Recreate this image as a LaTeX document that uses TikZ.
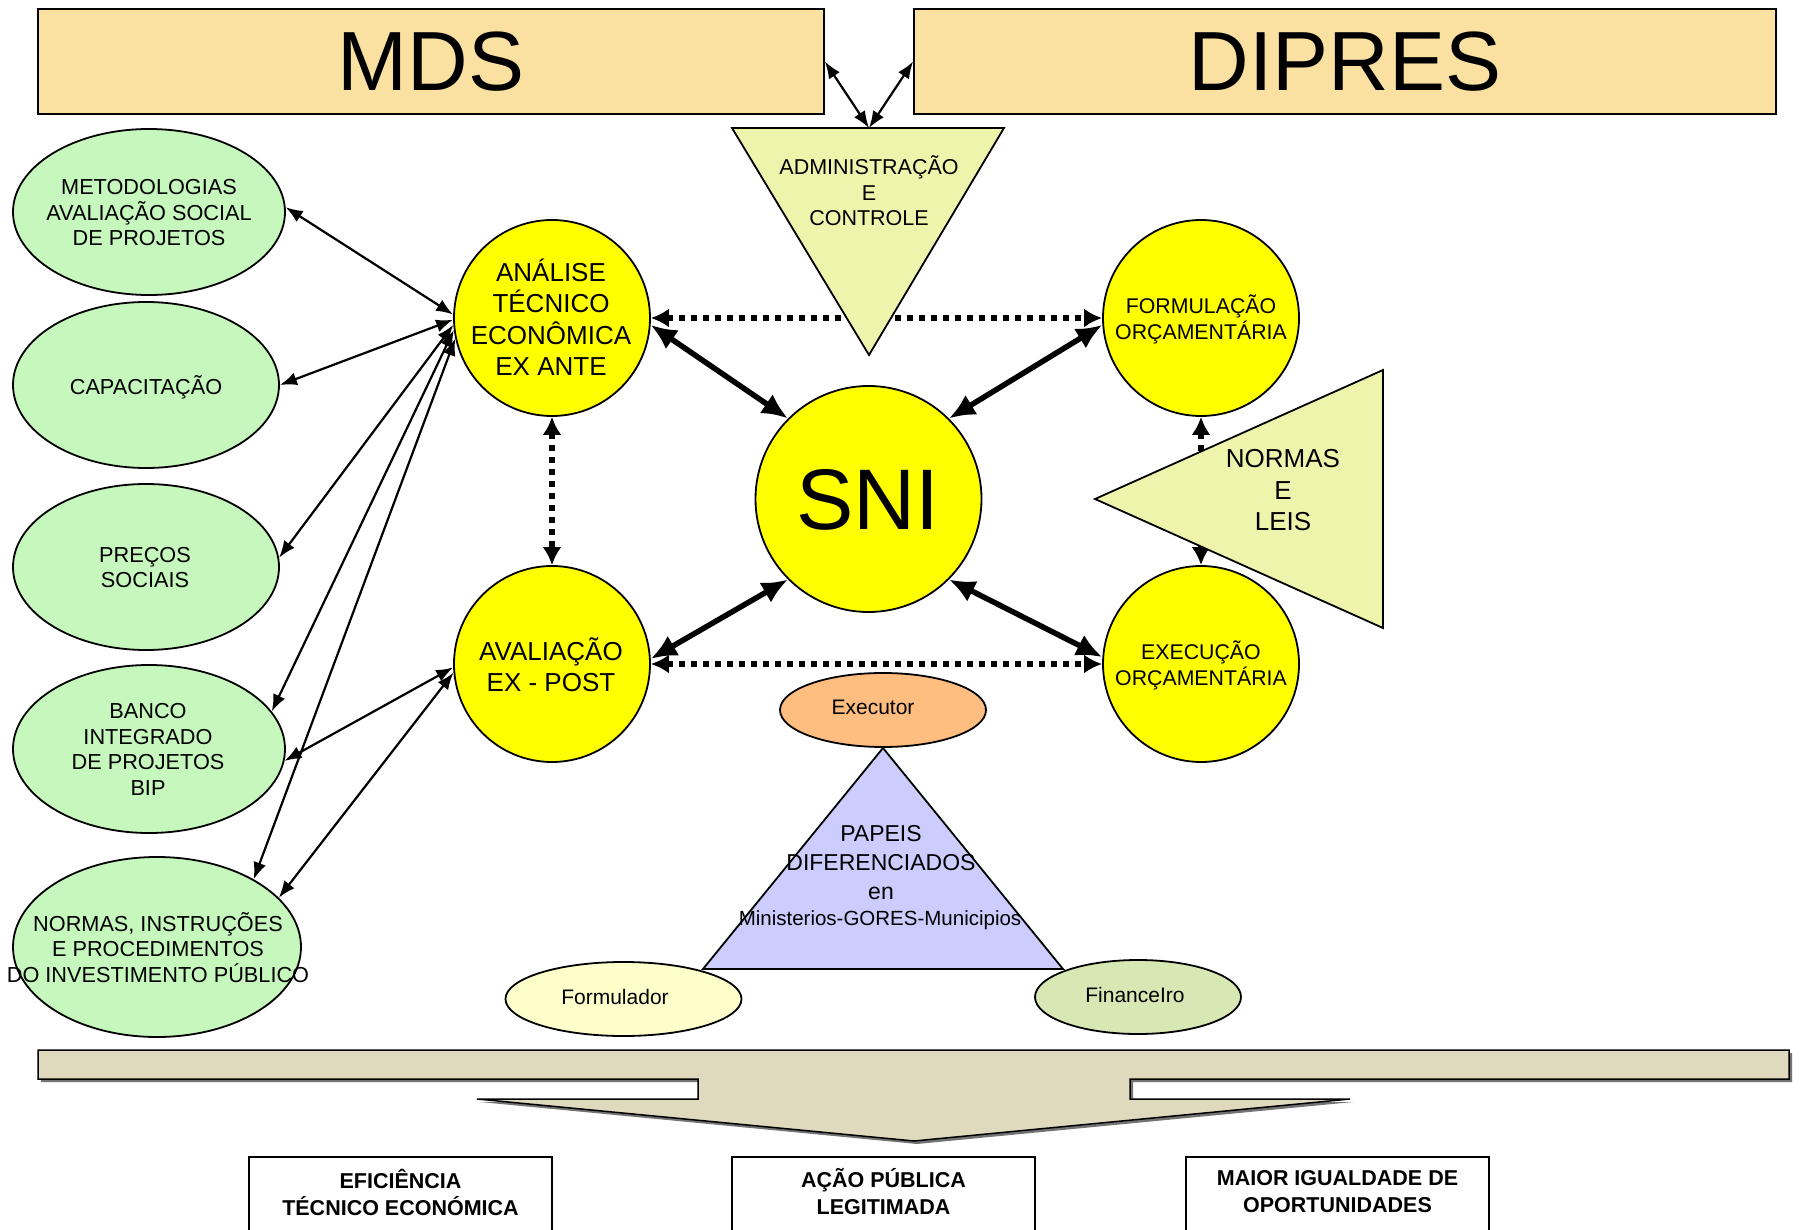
\documentclass[tikz,border=0pt]{standalone}
\usepackage{fontspec}
\setmainfont{Liberation Sans}
\usetikzlibrary{arrows.meta,shapes.geometric}

\definecolor{topc}{HTML}{FAE1A1}
\definecolor{trigc}{HTML}{EEF4AC}
\definecolor{greenc}{HTML}{C6F7BC}
\definecolor{orgc}{HTML}{FFBD7F}
\definecolor{purc}{HTML}{CCCCFF}
\definecolor{fmc}{HTML}{FFFFCC}
\definecolor{finc}{HTML}{D8E8B4}
\definecolor{tanc}{HTML}{DFD9BE}
\definecolor{yel}{rgb}{1,1,0}

\newcommand{\fsz}[2]{\fontsize{#1}{#2}\selectfont}

\begin{document}
\begin{tikzpicture}[x=1pt,y=-1pt,
 topbox/.style={draw, line width=1.8pt, fill=topc, inner sep=0pt, font=\fsz{84}{90}},
 ycirc/.style={circle, draw, line width=1.8pt, fill=yel, inner sep=0pt, minimum size=196pt},
 gell/.style={ellipse, draw, line width=1.8pt, fill=greenc, inner sep=0pt},
 smell/.style={ellipse, draw, line width=1.8pt, inner sep=0pt, minimum width=206pt, minimum height=74pt},
 txt/.style={align=center, inner sep=0pt},
 gtxt/.style={txt, font=\fsz{21.7}{25.5}},
 bigtxt/.style={txt, font=\fsz{26}{31.5}},
 midtxt/.style={txt, font=\fsz{21.3}{26}},
 smtxt/.style={txt, font=\fsz{21}{25}},
 tri/.style={draw, line width=1.8pt, fill=trigc, line join=miter},
 outbox/.style={draw, line width=2pt, fill=white, align=center, inner sep=0pt, minimum width=303pt, minimum height=76pt},
 outtxt/.style={txt, font=\bfseries\fsz{21.5}{27}},
 thinarr/.style={line width=2.2pt, {Latex[length=17pt,width=13pt]}-{Latex[length=17pt,width=13pt]}},
 thickarr/.style={line width=5.5pt, {Latex[length=26pt,width=23pt]}-{Latex[length=26pt,width=23pt]}},
 dotarr/.style={line width=5.5pt, dash pattern=on 6pt off 6pt, {Latex[length=18pt,width=19pt]}-{Latex[length=18pt,width=19pt]}}
]
\useasboundingbox (0,0) rectangle (1802,1230);
\fill[white] (0,0) rectangle (1802,1230);

% top boxes
\node[topbox, minimum width=786pt, minimum height=105pt] (mds) at (431,61.5) {MDS};
\node[topbox, minimum width=862pt, minimum height=105pt] (dip) at (1345,61.5) {DIPRES};

% yellow circles
\node[ycirc] (ana) at (552,318) {};
\node[ycirc] (ava) at (552,664) {};
\node[ycirc] (form) at (1201,318) {};
\node[ycirc] (exe) at (1201,664) {};
\node[ycirc, minimum size=226pt] (sni) at (868.5,499) {};

\node[bigtxt] at (551,317) {ANÁLISE\\TÉCNICO\\ECONÔMICA\\EX ANTE};
\node[bigtxt] at (551,664.5) {AVALIAÇÃO\\EX - POST};
\node[midtxt] at (1201,319) {FORMULAÇÃO\\ORÇAMENTÁRIA};
\node[midtxt] at (1201,665) {EXECUÇÃO\\ORÇAMENTÁRIA};
\node[txt, font=\fsz{86}{90}] at (868,500) {SNI};

% green ellipses
\node[gell, minimum width=272pt, minimum height=166pt] (met) at (149,212) {};
\node[gell, minimum width=266pt, minimum height=166pt] (cap) at (146,385) {};
\node[gell, minimum width=266pt, minimum height=166pt] (pre) at (146,567) {};
\node[gell, minimum width=272pt, minimum height=168pt] (ban) at (149,749) {};
\node[gell, minimum width=288pt, minimum height=180pt] (ni) at (157,947) {};

\node[gtxt] at (149,213) {METODOLOGIAS\\AVALIAÇÃO SOCIAL\\DE PROJETOS};
\node[gtxt] at (146,387) {CAPACITAÇÃO};
\node[gtxt] at (145,567.5) {PREÇOS\\SOCIAIS};
\node[gtxt] at (148,749.5) {BANCO\\INTEGRADO\\DE PROJETOS\\BIP};
\node[gtxt] at (158,947.5) {NORMAS, INSTRUÇÕES\\E PROCEDIMENTOS\\DO INVESTIMENTO PÚBLICO};

% thin arrows
\draw[thinarr] (ana.178) -- (met.2);
\draw[thinarr] (ana.181) -- (cap.east);
\draw[thinarr] (ana.184) -- (pre.4);
\draw[thinarr] (ana.187) -- (ban.17);
\draw[thinarr] (ana.192) -- (ni.35);
\draw[thinarr] (ava.182) -- (ban.-5);
\draw[thinarr] (ava.185) -- (ni.22);

% dotted arrows
\draw[dotarr] (ana.east) -- (form.west);
\draw[dotarr] (ava.east) -- (exe.west);
\draw[dotarr] (ana.south) -- (ava.north);
\draw[dotarr] (form.south) -- (exe.north);

% thick arrows
\draw[thickarr] (ana.-4) -- (sni.135);
\draw[thickarr] (sni.45) -- (form.184);
\draw[thickarr] (ava.3) -- (sni.225);
\draw[thickarr] (sni.-45) -- (exe.176);

% administration triangle
\coordinate (adl) at (732,128);
\coordinate (adr) at (1004,128);
\coordinate (adb) at (869,355);
\coordinate (admtop) at (869,128);
\draw[tri] (adl) -- (adr) -- (adb) -- cycle;
\node[txt, font=\fsz{21.5}{25.5}] at (869,191) {ADMINISTRAÇÃO\\E\\CONTROLE};
\draw[thinarr] (mds.east) -- (admtop);
\draw[thinarr] (dip.west) -- (admtop);

% normas e leis triangle
\coordinate (nl) at (1095,499);
\coordinate (nt) at (1383,370);
\coordinate (nb) at (1383,628);
\draw[tri] (nl) -- (nt) -- (nb) -- cycle;
\node[txt, font=\fsz{26}{31.5}] at (1283,490.5) {NORMAS\\E\\LEIS};

% papeis triangle
\coordinate (pa) at (883,748);
\coordinate (pl) at (703,969);
\coordinate (pr) at (1063,969);
\draw[line width=1.8pt, fill=purc] (pa) -- (pl) -- (pr) -- cycle;
\node[txt, font=\fsz{23}{29}] (pap) at (881,863) {PAPEIS\\DIFERENCIADOS\\en};
\node[txt, font=\fsz{20.5}{24}] at (880,920) {Ministerios-GORES-Municipios};

\node[smell, fill=orgc] (exr) at (883,710) {};
\node[smtxt] at (873,707) {Executor};
\node[smell, fill=fmc, minimum width=236pt] (fml) at (623.5,999) {};
\node[smtxt] at (615,997) {Formulador};
\node[smell, fill=finc] (fin) at (1138,997) {};
\node[smtxt] at (1135,994.5) {FinanceIro};

% bottom arrow
\fill[black!55] (41,1053) -- (1792,1053) -- (1792,1082) -- (1133,1082) -- (1133,1102) -- (1353,1102) -- (917,1144) -- (480,1102) -- (701,1102) -- (701,1082) -- (41,1082) -- cycle;
\draw[fill=tanc, line width=1.5pt, line join=miter] (38,1050) -- (1789,1050) -- (1789,1079) -- (1130,1079) -- (1130,1099) -- (1350,1099) -- (914,1141) -- (477,1099) -- (698,1099) -- (698,1079) -- (38,1079) -- cycle;

% outcome boxes
\node[outbox] (o1) at (400.5,1195) {};
\node[outbox] (o2) at (883.5,1195) {};
\node[outbox] (o3) at (1337.5,1195) {};
\node[outtxt] at (400.5,1192) {EFICIÊNCIA\\TÉCNICO ECONÓMICA};
\node[outtxt] at (883.5,1192) {AÇÃO PÚBLICA\\LEGITIMADA};
\node[outtxt] at (1337.5,1192) {MAIOR IGUALDADE DE\\OPORTUNIDADES};
\end{tikzpicture}
\end{document}
